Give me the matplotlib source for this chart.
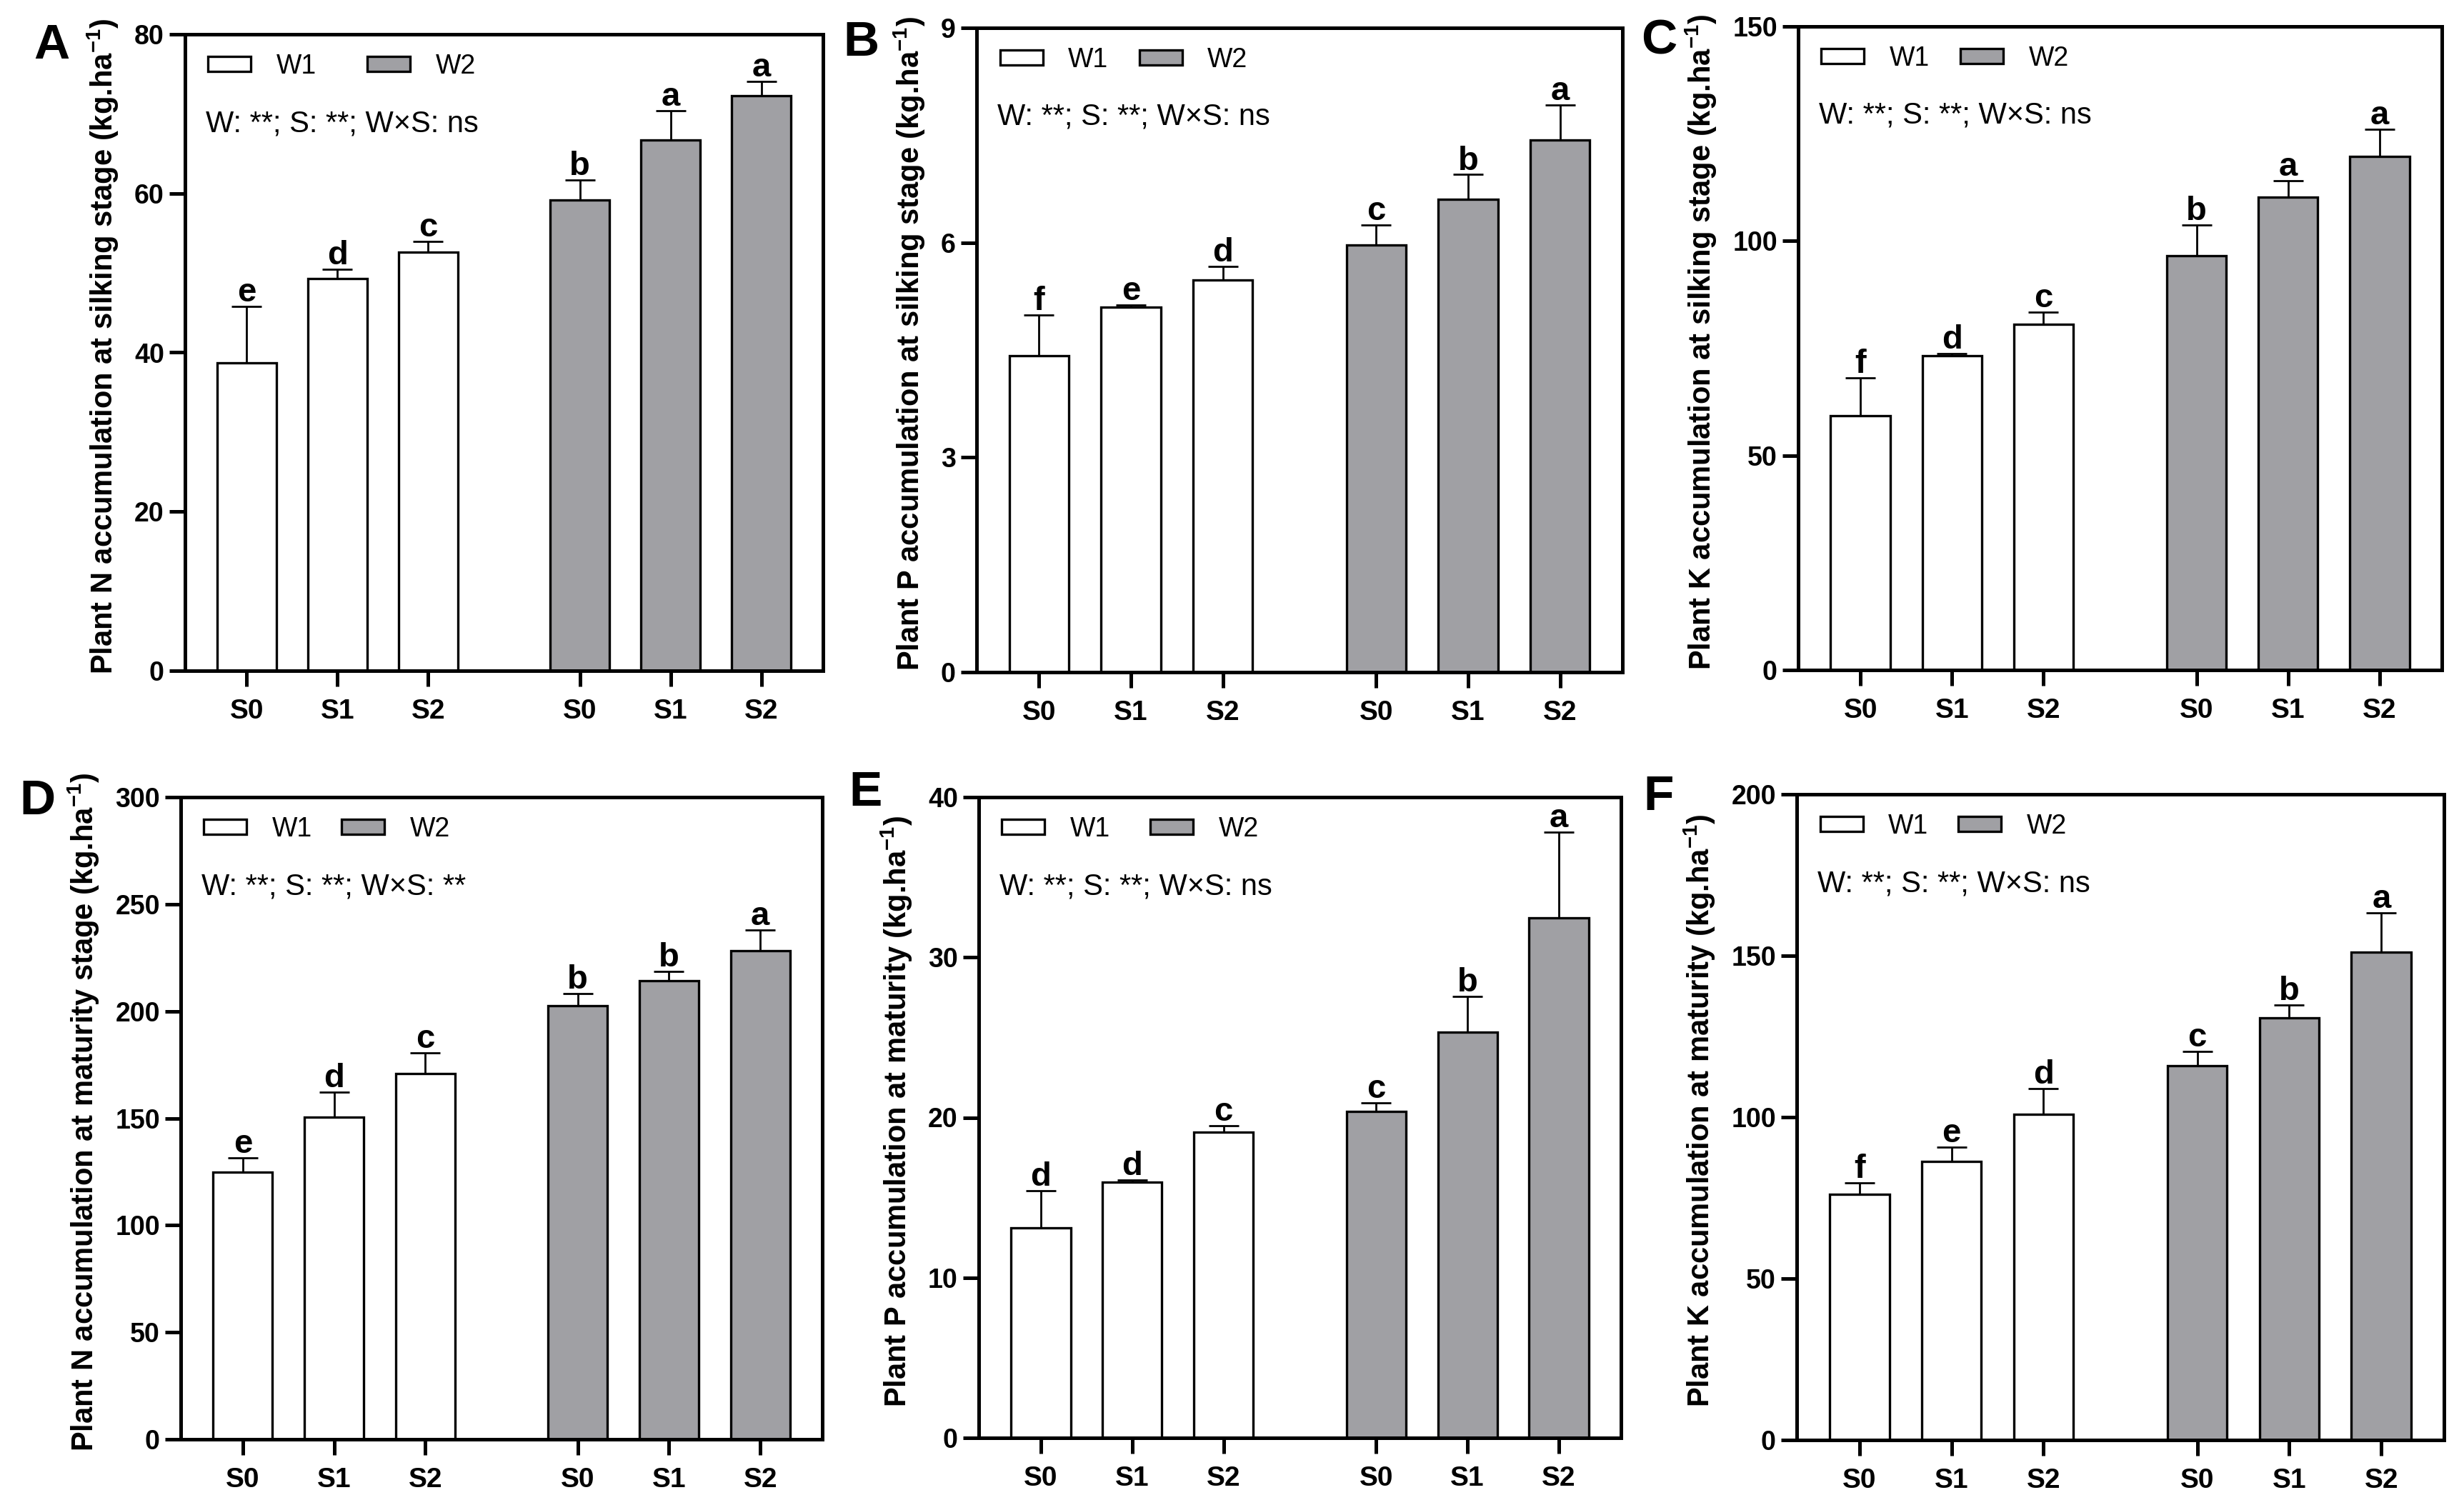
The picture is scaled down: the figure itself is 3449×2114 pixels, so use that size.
import matplotlib.pyplot as plt
from matplotlib.patches import Patch

plt.rcParams['font.family'] = ['Liberation Sans', 'DejaVu Sans']
plt.rcParams['font.weight'] = 'bold'
plt.rcParams['mathtext.fontset'] = 'custom'
plt.rcParams['mathtext.rm'] = 'Liberation Sans'
plt.rcParams['mathtext.bf'] = 'Liberation Sans:bold'

W_PX, H_PX, DPI = 3449, 2114, 200

# data
treatments = ['S0', 'S1', 'S2', 'S0', 'S1', 'S2']
panel_ids = ['A', 'B', 'C', 'D', 'E', 'F']

n_silking_w1 = [38.7, 49.3, 52.6]
n_silking_w1_err = [7.1, 1.15, 1.35]
n_silking_w2 = [59.2, 66.7, 72.3]
n_silking_w2_err = [2.5, 3.7, 1.8]

p_silking_w1 = [4.42, 5.10, 5.48]
p_silking_w1_err = [0.57, 0.03, 0.19]
p_silking_w2 = [5.97, 6.61, 7.43]
p_silking_w2_err = [0.28, 0.34, 0.49]

k_silking_w1 = [59.2, 73.3, 80.6]
k_silking_w1_err = [8.9, 0.4, 2.8]
k_silking_w2 = [96.5, 110.2, 119.7]
k_silking_w2_err = [7.3, 3.9, 6.4]

n_maturity_w1 = [124.7, 150.4, 171.0]
n_maturity_w1_err = [6.9, 11.9, 9.6]
n_maturity_w2 = [202.5, 214.1, 228.4]
n_maturity_w2_err = [5.8, 4.5, 9.4]

p_maturity_w1 = [13.1, 15.97, 19.07]
p_maturity_w1_err = [2.33, 0.15, 0.42]
p_maturity_w2 = [20.36, 25.31, 32.45]
p_maturity_w2_err = [0.57, 2.27, 5.37]

k_maturity_w1 = [76.1, 86.2, 100.9]
k_maturity_w1_err = [3.6, 4.6, 8.0]
k_maturity_w2 = [116.0, 130.7, 151.1]
k_maturity_w2_err = [4.4, 4.1, 12.2]

letters = [
    ['e', 'd', 'c', 'b', 'a', 'a'],
    ['f', 'e', 'd', 'c', 'b', 'a'],
    ['f', 'd', 'c', 'b', 'a', 'a'],
    ['e', 'd', 'c', 'b', 'b', 'a'],
    ['d', 'd', 'c', 'c', 'b', 'a'],
    ['f', 'e', 'd', 'c', 'b', 'a'],
]

ylabels = [
    r'Plant N accumulation at silking stage (kg.ha$^{\mathbf{-1}}$)',
    r'Plant P accumulation at silking stage (kg.ha$^{\mathbf{-1}}$)',
    r'Plant K accumulation at silking stage (kg.ha$^{\mathbf{-1}}$)',
    r'Plant N accumulation at maturity stage (kg.ha$^{\mathbf{-1}}$)',
    r'Plant P accumulation at maturity (kg.ha$^{\mathbf{-1}}$)',
    r'Plant K accumulation at maturity (kg.ha$^{\mathbf{-1}}$)',
]
stats = ['W: **; S: **; W×S: ns'] * 3 + ['W: **; S: **; W×S: **'] + ['W: **; S: **; W×S: ns'] * 2
y_max = [80, 9, 150, 300, 40, 200]
y_step = [20, 3, 50, 50, 10, 50]

w1_data = [n_silking_w1, p_silking_w1, k_silking_w1, n_maturity_w1, p_maturity_w1, k_maturity_w1]
w1_errs = [n_silking_w1_err, p_silking_w1_err, k_silking_w1_err,
           n_maturity_w1_err, p_maturity_w1_err, k_maturity_w1_err]
w2_data = [n_silking_w2, p_silking_w2, k_silking_w2, n_maturity_w2, p_maturity_w2, k_maturity_w2]
w2_errs = [n_silking_w2_err, p_silking_w2_err, k_silking_w2_err,
           n_maturity_w2_err, p_maturity_w2_err, k_maturity_w2_err]

# axes boxes in pixels: left, right, top, bottom
boxes = [
    (259, 1152, 48, 939), (1367, 2271, 39, 941), (2517, 3418, 37, 938),
    (253, 1151, 1116, 2015), (1370, 2269, 1116, 2013), (2515, 3421, 1112, 2016),
]
letter_pos = [(47, 32), (1180, 28), (2297, 26), (27, 1090), (1188, 1078), (2300, 1084)]
legend_gap = [1.9, 1.15, 1.15, 1.1, 1.5, 1.1]

GREY = '#a0a0a4'
x_pos = [0, 1, 2, 3.67, 4.67, 5.67]

fig = plt.figure(figsize=(W_PX / DPI, H_PX / DPI), dpi=DPI)

for i in range(6):
    l, r, t, b = boxes[i]
    ax = fig.add_axes([l / W_PX, 1 - b / H_PX, (r - l) / W_PX, (b - t) / H_PX])

    vals = w1_data[i] + w2_data[i]
    errs = w1_errs[i] + w2_errs[i]
    colors = ['white'] * 3 + [GREY] * 3
    ax.bar(x_pos, vals, width=0.65, color=colors, edgecolor='black', linewidth=1.2, zorder=2)
    ax.errorbar(x_pos, vals, yerr=[[0] * 6, errs], fmt='none', ecolor='black',
                elinewidth=1.0, capsize=7.5, capthick=1.0, zorder=3)
    for x, v, e, lab in zip(x_pos, vals, errs, letters[i]):
        ax.annotate(lab, (x, v + e), xytext=(0, 2.5), textcoords='offset points',
                    ha='center', va='baseline', fontsize=17, fontweight='bold')

    ax.set_xlim(-0.68, 6.35)
    ax.set_ylim(0, y_max[i])
    ax.set_yticks(range(0, y_max[i] + 1, y_step[i]))
    ax.set_xticks(x_pos, treatments)
    for s in ax.spines.values():
        s.set_linewidth(1.8)
    ax.tick_params(axis='both', direction='out', length=8, width=1.8)
    ax.tick_params(axis='y', labelsize=13.5, pad=2.5)
    ax.tick_params(axis='x', labelsize=14, pad=6)

    ax.set_ylabel(ylabels[i], fontsize=15, fontweight='bold', labelpad=7)
    ax.yaxis.label.set_y(0.51)

    handles = [Patch(facecolor='white', edgecolor='black', linewidth=1.2, label='W1'),
               Patch(facecolor=GREY, edgecolor='black', linewidth=1.2, label='W2')]
    ax.legend(handles=handles, loc='center left', bbox_to_anchor=(0.036, 1 - 45 / (b - t)),
              ncol=2, frameon=False, borderpad=0, borderaxespad=0,
              handlelength=1.6, handleheight=0.5, handletextpad=0.95,
              columnspacing=legend_gap[i], prop={'size': 13.5, 'weight': 'normal'})
    ax.text(0.032, 1 - 125 / (b - t), stats[i], transform=ax.transAxes,
            ha='left', va='center', fontsize=15, fontweight='normal')

    lx, ly = letter_pos[i]
    fig.text(lx / W_PX, 1 - ly / H_PX, panel_ids[i], ha='left', va='top',
             fontsize=25, fontweight='bold')

fig.savefig('out.png', dpi=DPI)
